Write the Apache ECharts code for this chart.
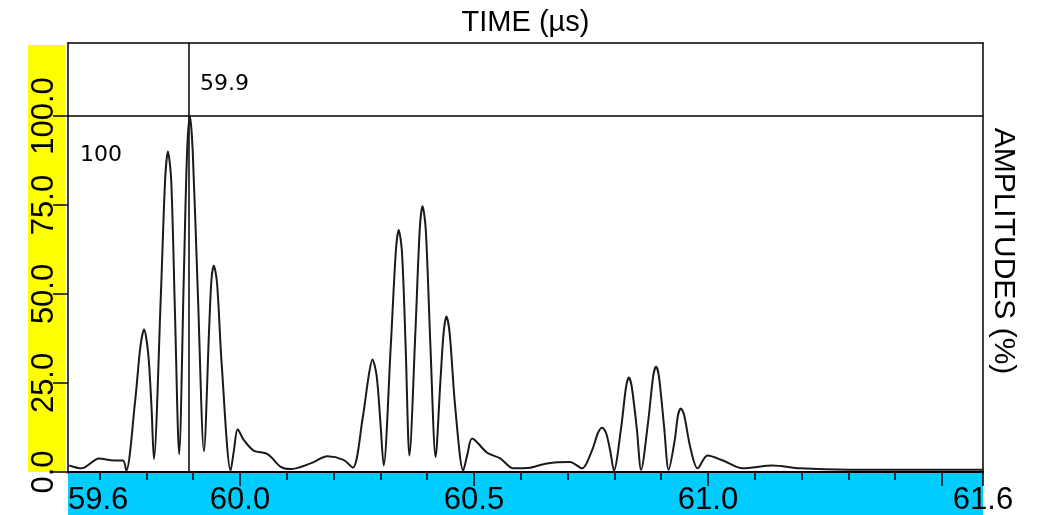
<!DOCTYPE html>
<html><head><meta charset="utf-8">
<script src="https://cdn.jsdelivr.net/npm/echarts@6/dist/echarts.min.js"></script>
<style>html,body{margin:0;padding:0;background:#fff}#c{width:1040px;height:515px}</style>
</head><body><div id="c"></div>
<script>
// ---- data ----
const times = [59.635, 59.661, 59.699, 59.731, 59.750, 59.757,
  59.776, 59.787, 59.795, 59.804, 59.811, 59.816,
  59.831, 59.840, 59.846, 59.853, 59.861, 59.870,
  59.880, 59.887, 59.893, 59.899, 59.910, 59.923,
  59.934, 59.939, 59.944, 59.951, 59.961, 59.980,
  59.987, 59.995, 60.008, 60.029, 60.059, 60.087, 60.108, 60.151, 60.187, 60.221, 60.241,
  60.262, 60.275, 60.283, 60.292, 60.300, 60.307,
  60.322, 60.333, 60.339, 60.346, 60.354, 60.362,
  60.375, 60.384, 60.390, 60.397, 60.407, 60.418,
  60.428, 60.435, 60.441, 60.448, 60.460, 60.477,
  60.486, 60.496, 60.528, 60.556, 60.584, 60.620, 60.656, 60.705, 60.731,
  60.752, 60.765, 60.774, 60.782, 60.791, 60.799,
  60.814, 60.825, 60.831, 60.837, 60.848, 60.857,
  60.872, 60.883, 60.889, 60.895, 60.906, 60.916,
  60.929, 60.936, 60.942, 60.949, 60.962, 60.978,
  60.999, 61.032, 61.074, 61.138, 61.196, 61.302, 61.588];
const amps = [1.8, 1.0, 3.8, 3.2, 3.2, 0.4,
  20, 35, 40, 33, 18, 3.6,
  50, 82, 90, 82, 45, 5,
  55, 90, 100, 90, 50, 5.8,
  40, 54, 58, 53, 30, 0.4,
  6, 12, 9, 6, 5, 1.4, 0.8, 2.4, 4.4, 3.4, 1.2,
  15, 27, 31.6, 27, 14, 1.8,
  35, 62, 68, 62, 35, 4.6,
  40, 68, 74.7, 68, 35, 4.2,
  25, 39, 43.7, 39, 18, 0.4,
  5, 9.4, 5.4, 3.8, 1.0, 1.2, 2.4, 2.8, 1.0,
  6, 11, 12.4, 11, 6, 0.4,
  12, 24, 26.5, 24, 12, 0.6,
  14, 27, 29.6, 27, 13, 0.6,
  9, 16, 17.8, 16, 7, 1.0,
  4.6, 3.2, 1.0, 1.8, 1.0, 0.6, 0.6];
const yTickValues = [0, 25, 50, 75, 100];
const xMajorTicks = [60.0, 60.5, 61.0, 61.5];
const xMinorTicks = [59.7, 59.8, 59.9, 60.1, 60.2, 60.3, 60.4, 60.6, 60.7, 60.8, 60.9, 61.1, 61.2, 61.3, 61.4];
const xLabelValues = [60.0, 60.5, 61.0];
const xMin = 59.6325, xMax = 61.5876;
const yMin = -0.3, yMax = 120.5;
const cursorTime = 59.891;
const cursorAmp = 100;
const xTitle = 'TIME (µs)';
const yTitle = 'AMPLITUDES (%)';

// ---- chart ----
const bigFont = "'Liberation Sans', Arial, sans-serif";
const chart = echarts.init(document.getElementById('c'), null, {renderer: 'canvas'});
const seriesData = times.map((t, i) => [t, amps[i]]);
const blackLine = {color: '#000', width: 1.5};

chart.setOption({
  animation: false,
  backgroundColor: '#fff',
  grid: {left: 68, right: 57, top: 43, bottom: 42, containLabel: false, outerBoundsMode: 'none'},
  xAxis: [
    {
      type: 'value', min: xMin, max: xMax, position: 'bottom',
      axisLine: {show: true, lineStyle: {color: '#000', width: 2}},
      axisTick: {show: true, customValues: xMajorTicks.concat([xMax]), length: 14, lineStyle: blackLine},
      axisLabel: {
        show: true, customValues: [xMin].concat(xLabelValues, [xMax]),
        formatter: v => v.toFixed(1), margin: 12,
        color: '#000', fontSize: 31, fontFamily: bigFont,
        alignMinLabel: 'left', alignMaxLabel: 'center'
      },
      splitLine: {show: false}
    },
    {
      type: 'value', min: xMin, max: xMax, position: 'bottom',
      axisLine: {show: false},
      axisTick: {show: true, customValues: xMinorTicks, length: 8, lineStyle: blackLine},
      axisLabel: {show: false},
      splitLine: {show: false}
    },
    {
      type: 'value', min: xMin, max: xMax, position: 'top',
      axisLine: {show: true, lineStyle: blackLine},
      axisTick: {show: false}, axisLabel: {show: false}, splitLine: {show: false},
      name: xTitle, nameLocation: 'middle', nameGap: 6,
      nameTextStyle: {color: '#000', fontSize: 29, fontFamily: bigFont}
    }
  ],
  yAxis: [
    {
      type: 'value', min: yMin, max: yMax, position: 'left',
      axisLine: {show: true, lineStyle: blackLine},
      axisTick: {show: true, customValues: yTickValues, length: 15, lineStyle: blackLine},
      axisLabel: {
        show: true, customValues: yTickValues, rotate: 90, margin: 8,
        formatter: v => v.toFixed(1),
        color: '#000', fontSize: 31, fontFamily: bigFont
      },
      splitLine: {show: false}
    },
    {
      type: 'value', min: yMin, max: yMax, position: 'right',
      axisLine: {show: true, lineStyle: blackLine},
      axisTick: {show: false}, axisLabel: {show: false}, splitLine: {show: false},
      name: yTitle, nameLocation: 'middle', nameRotate: -90, nameGap: 5,
      nameTextStyle: {color: '#000', fontSize: 30, fontFamily: bigFont, padding: [0, 14, 0, 0]}
    }
  ],
  series: [{
    type: 'line', xAxisIndex: 0, yAxisIndex: 0,
    data: seriesData, showSymbol: false, smooth: 0.3,
    lineStyle: {color: '#1a1a1a', width: 2},
    z: 5,
    markLine: {
      silent: true, symbol: 'none', animation: false,
      lineStyle: {color: '#000', width: 1.5, type: 'solid'},
      label: {show: false},
      data: [{xAxis: cursorTime}, {yAxis: cursorAmp}]
    }
  }]
});

const p0 = chart.convertToPixel({gridIndex: 0}, [xMin, yMin]);
const p1 = chart.convertToPixel({gridIndex: 0}, [xMax, yMax]);
const pc = chart.convertToPixel({gridIndex: 0}, [cursorTime, cursorAmp]);
chart.setOption({
  graphic: [
    {type: 'rect', z: -10, silent: true, shape: {x: 28, y: p1[1] + 2, width: p0[0] - 31, height: p0[1] - p1[1] - 3}, style: {fill: '#ffff00'}},
    {type: 'rect', z: -10, silent: true, shape: {x: p0[0], y: p0[1] - 2, width: p1[0] - p0[0], height: 515 - p0[1] + 2}, style: {fill: '#00ccff'}},
    {type: 'text', z: 10, silent: true, x: pc[0] + 11, y: pc[1] - 32,
      style: {text: cursorTime.toFixed(1), fill: '#000', font: "22px 'DejaVu Sans', sans-serif", textVerticalAlign: 'middle', textAlign: 'left'}},
    {type: 'text', z: 10, silent: true, x: p0[0] + 12, y: pc[1] + 39,
      style: {text: String(cursorAmp), fill: '#000', font: "22px 'DejaVu Sans', sans-serif", textVerticalAlign: 'middle', textAlign: 'left'}}
  ]
});
</script>
</body></html>
